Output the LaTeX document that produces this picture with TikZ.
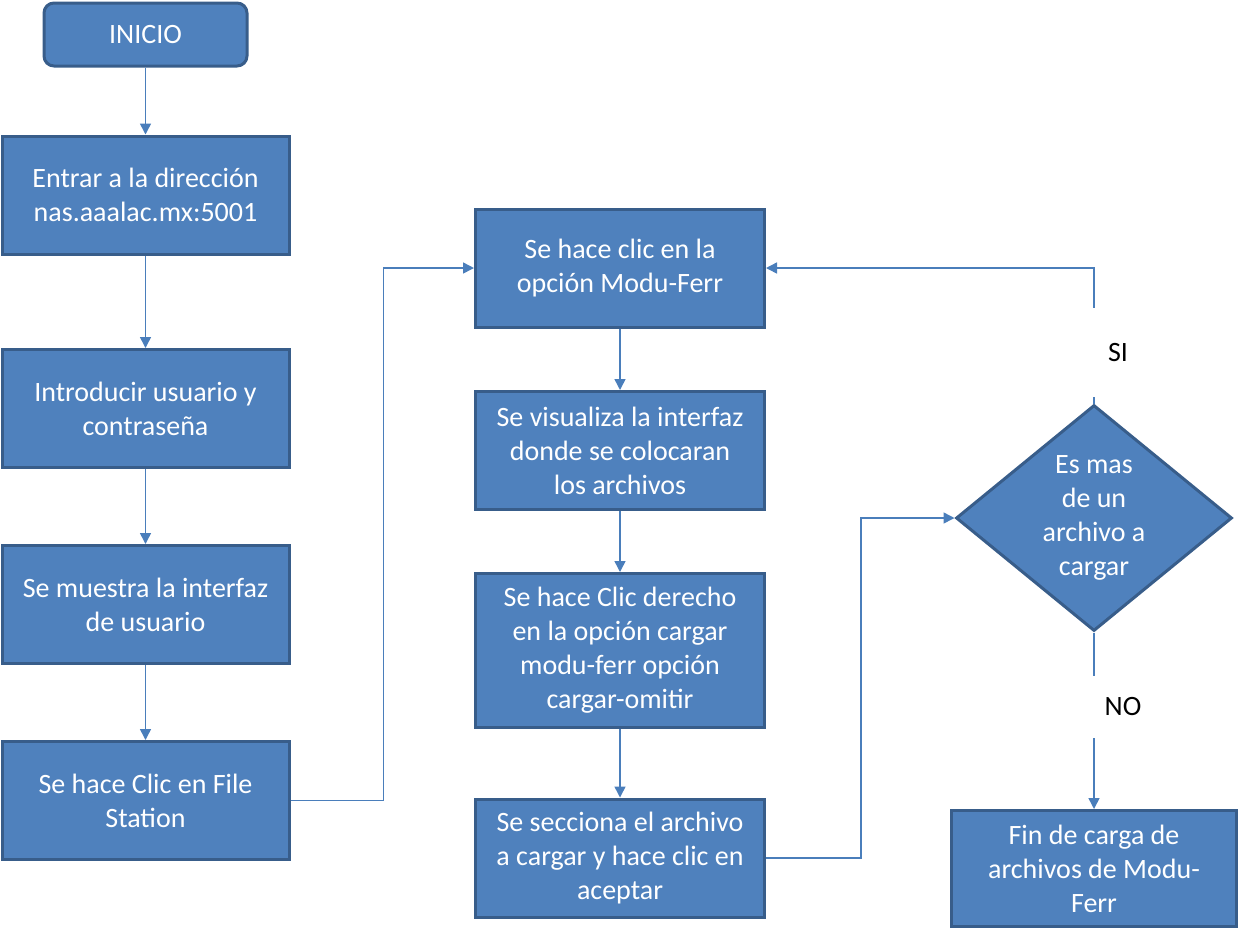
\documentclass[tikz,border=0pt]{standalone}
\usepackage{fontspec}
\setmainfont{Carlito}
\usetikzlibrary{arrows.meta,shapes.geometric}
\definecolor{boxfill}{HTML}{4F81BD}
\definecolor{boxline}{HTML}{385D8A}
\definecolor{conn}{HTML}{4A7EBB}
\begin{document}
\begin{tikzpicture}[x=1pt,y=-1pt,>={Triangle[length=11pt,width=11pt]},
	box/.style={rectangle,draw=boxline,fill=boxfill,line width=3pt,text=white,align=center,
		font=\fontsize{28}{34}\selectfont,minimum width=287,minimum height=118,inner sep=0},
	arr/.style={->,draw=conn,line width=1.5pt},
	lbl/.style={fill=white,font=\fontsize{28}{34}\selectfont,inner sep=0}]
	\useasboundingbox (0,0) rectangle (1241,938);
	\node[box,rounded corners=10pt,minimum width=203,minimum height=63] (ini) at (145.5,34.5) {INICIO};
	\node[box] (dir) at (145.5,195) {Entrar a la dirección\\nas.aaalac.mx:5001};
	\node[box] (usr) at (145.5,408.5) {Introducir usuario y\\contraseña};
	\node[box] (intf) at (145.5,604.5) {Se muestra la interfaz\\de usuario};
	\node[box] (fs) at (145.5,800.5) {Se hace Clic en File\\Station};
	\node[box,minimum width=289] (mf) at (620,268) {Se hace clic en la\\opción Modu-Ferr};
	\node[box,minimum width=289] (vis) at (620,450.5) {Se visualiza la interfaz\\donde se colocaran\\los archivos};
	\node[box,minimum width=289,minimum height=154] (der) at (620,650.5) {Se hace Clic derecho\\en la opción cargar\\modu-ferr opción\\cargar-omitir};
	\node[box,minimum width=289] (sec) at (620,858) {Se secciona el archivo\\a cargar y hace clic en\\aceptar};
	\node[box,diamond,aspect=1.22,minimum width=276,minimum height=226] (dec) at (1094,518) {Es mas\\de un\\archivo a\\cargar};
	\node[box,minimum width=285,minimum height=116] (fin) at (1094,868.5) {Fin de carga de\\archivos de Modu-\\Ferr};
	\draw[arr] (ini) -- (dir);
	\draw[arr] (dir) -- (usr);
	\draw[arr] (usr) -- (intf);
	\draw[arr] (intf) -- (fs);
	\draw[arr] (fs.east) -- ++(93,0) |- (mf.west);
	\draw[arr] (mf) -- (vis);
	\draw[arr] (vis) -- (der);
	\draw[arr] (der) -- (sec);
	\draw[arr] (sec.east) -- ++(95,0) |- (dec.west);
	\draw[arr] (dec.north) |- node[lbl,pos=0.19,minimum width=80,minimum height=89,xshift=24] {SI} (mf.east);
	\draw[arr] (dec.south) -- node[lbl,pos=0.42,minimum width=80,minimum height=62,xshift=29] {NO} (fin.north);
\end{tikzpicture}
\end{document}
